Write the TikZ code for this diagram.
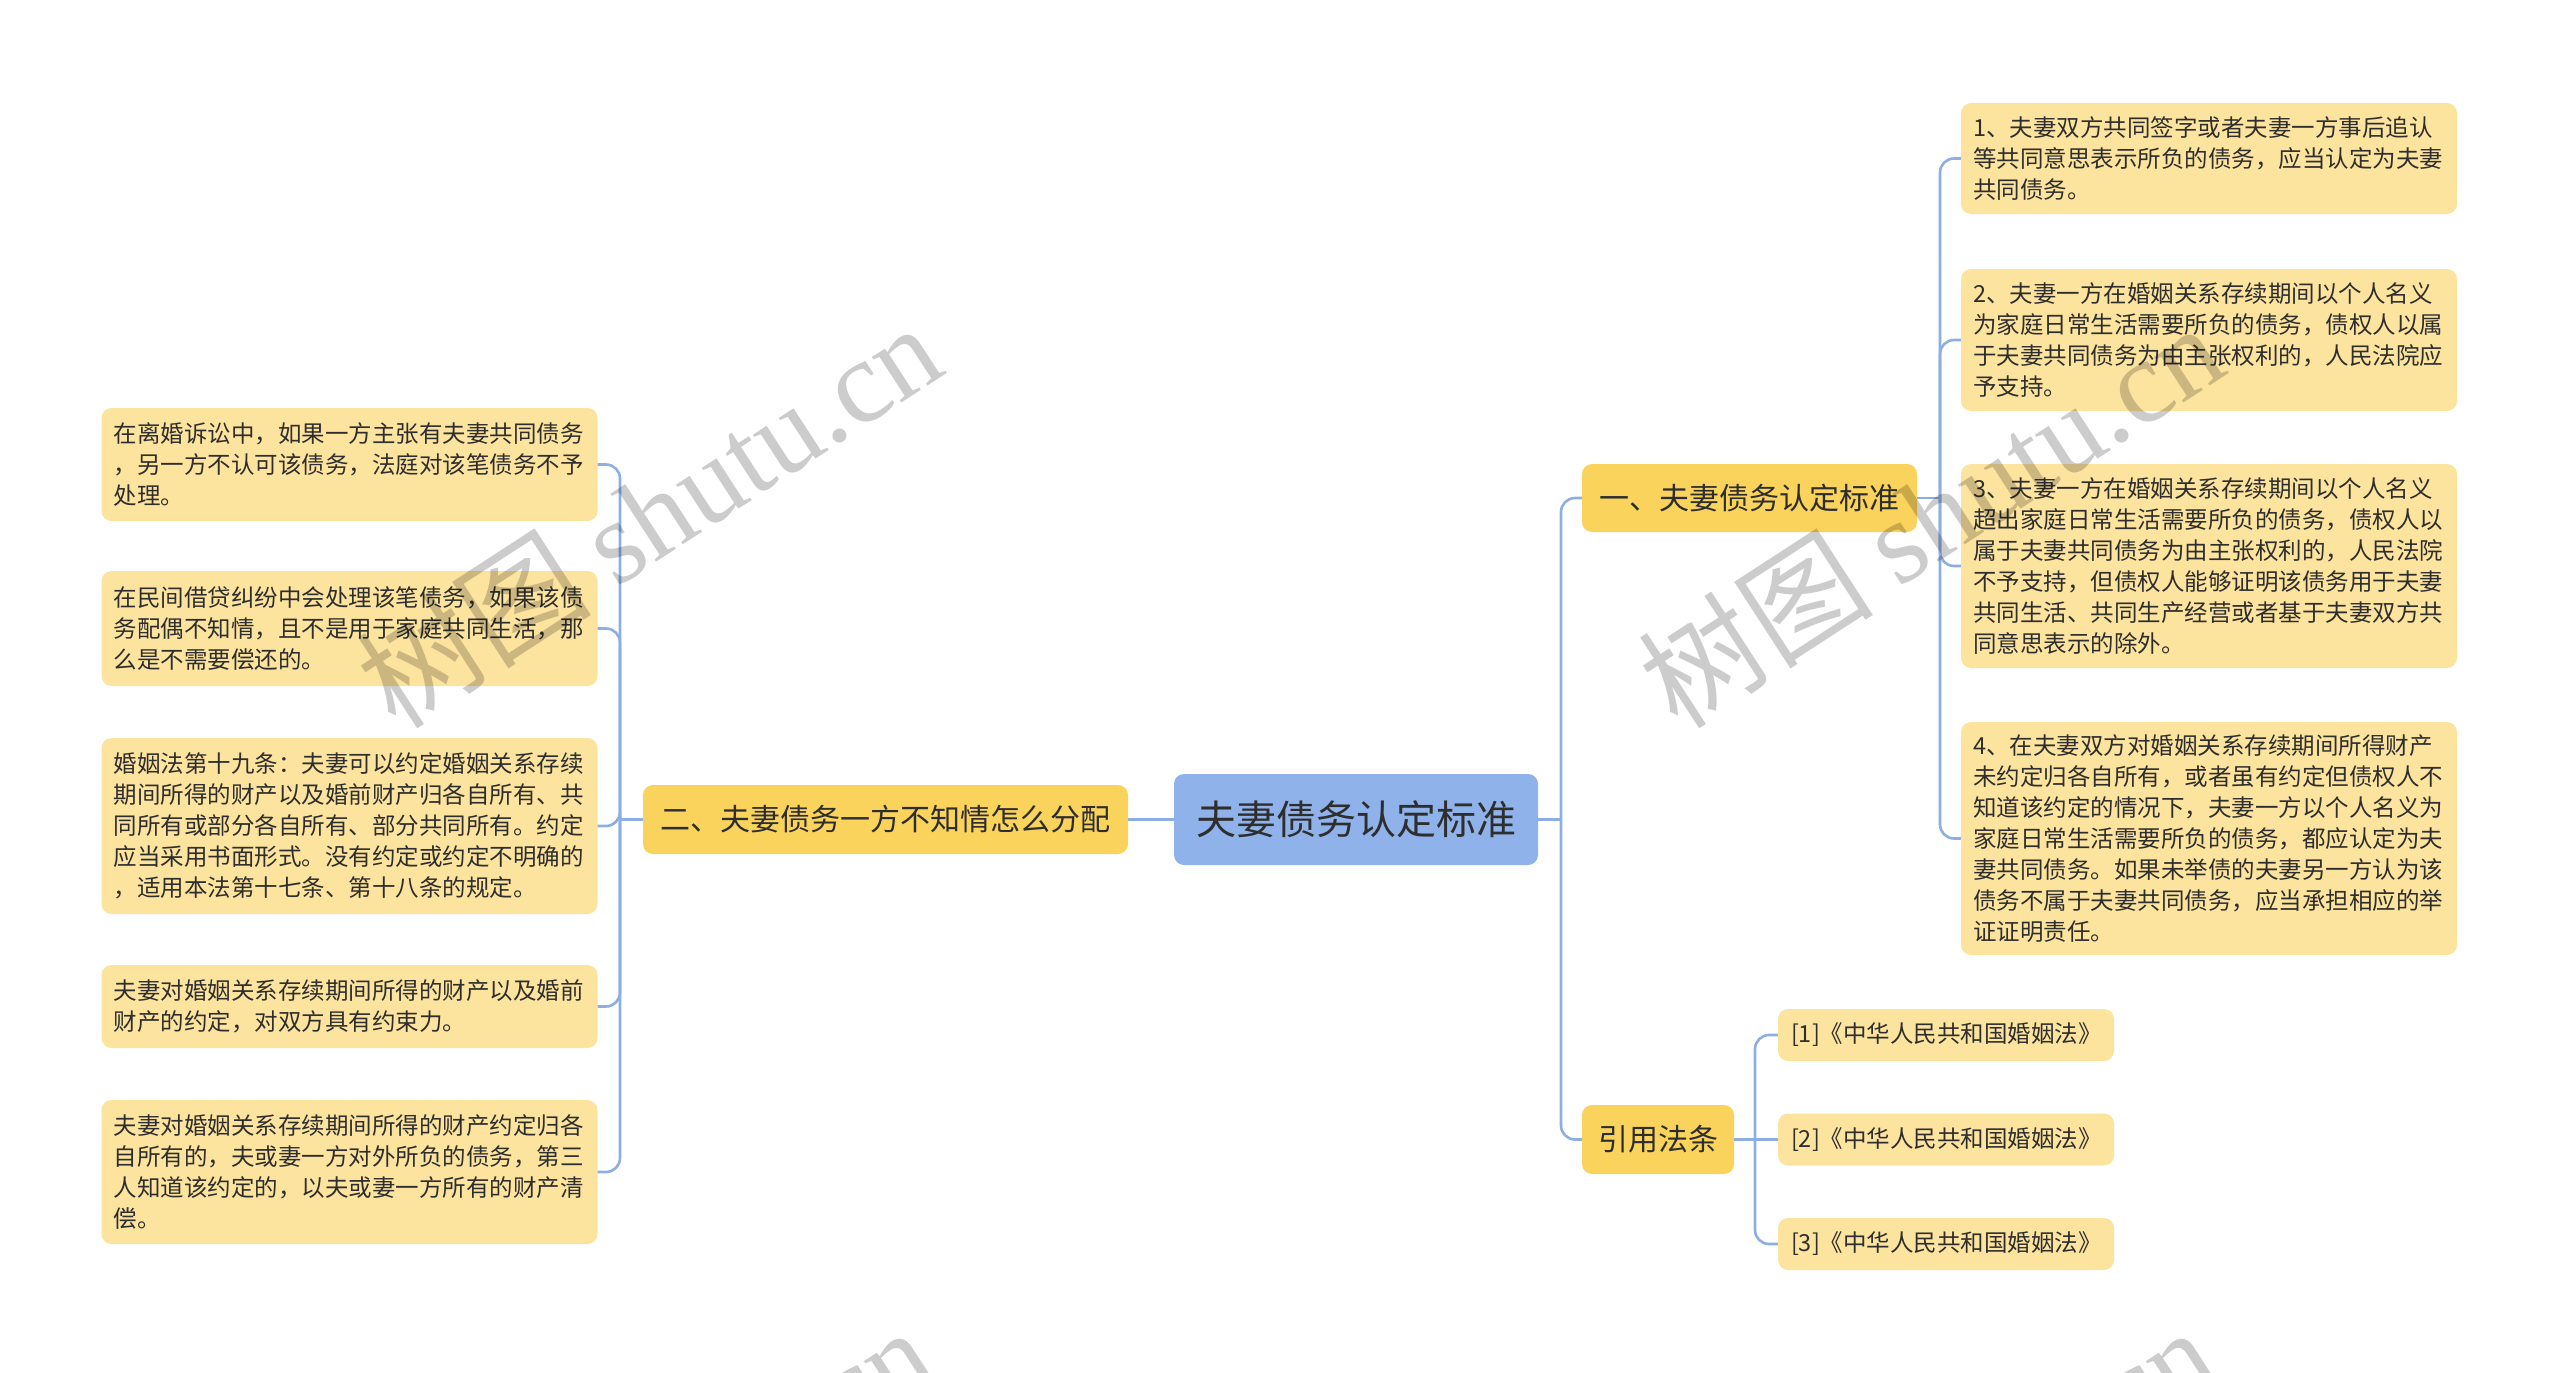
\documentclass[tikz,border=0pt]{standalone}
\usepackage{fontspec}
\setmainfont{Noto Sans CJK SC}
\newfontfamily\wmcjk{Noto Sans CJK SC}
\newfontfamily\wmlat{Liberation Serif}
\definecolor{rootc}{HTML}{8FB2EA}
\definecolor{branchc}{HTML}{FAD35C}
\definecolor{leafc}{HTML}{FDE49E}
\definecolor{linec}{HTML}{8DAEE3}
\definecolor{txtc}{HTML}{2E2E2E}
\tikzset{
  base/.style={rounded corners=10pt, text=txtc, inner sep=0pt, draw=none},
  rootbox/.style={base, fill=rootc, font=\fontsize{40}{48}\selectfont, minimum width=364pt, minimum height=91pt},
  branchbox/.style={base, fill=branchc, font=\fontsize{30}{36}\selectfont, minimum height=69pt},
  leafbox/.style={base, fill=leafc, font=\fontsize{23.5}{31}\selectfont, align=left, inner xsep=12pt, text width=472pt},
  citebox/.style={base, fill=leafc, font=\fontsize{23.5}{31}\selectfont, align=left, inner xsep=13pt, text width=310pt, minimum height=52pt},
  conn/.style={draw=linec, line width=2.6pt, rounded corners=14pt},
  wm/.style={text=black, opacity=0.2, rotate=33, inner sep=0pt, font=\fontsize{118}{118}\selectfont}
}
\begin{document}
\begin{tikzpicture}[x=1pt,y=-1pt]
\useasboundingbox (0,0) rectangle (2560,1373);
\fill[white] (0,0) rectangle (2560,1373);

% nodes
\node[rootbox] (root) at (1356,819.5) {夫妻债务认定标准};
\node[branchbox, minimum width=485pt] (b2) at (885.5,819.5) {二、夫妻债务一方不知情怎么分配};
\node[branchbox, minimum width=335pt, minimum height=68pt] (b1) at (1749.5,498) {一、夫妻债务认定标准};
\node[branchbox, minimum width=152pt] (b3) at (1658,1139.5) {引用法条};

\node[leafbox, minimum height=111pt] (r1) at (2209,158.5) {1、夫妻双方共同签字或者夫妻一方事后追认\\等共同意思表示所负的债务，应当认定为夫妻\\共同债务。};
\node[leafbox, minimum height=142pt] (r2) at (2209,340) {2、夫妻一方在婚姻关系存续期间以个人名义\\为家庭日常生活需要所负的债务，债权人以属\\于夫妻共同债务为由主张权利的，人民法院应\\予支持。};
\node[leafbox, minimum height=204pt] (r3) at (2209,566) {3、夫妻一方在婚姻关系存续期间以个人名义\\超出家庭日常生活需要所负的债务，债权人以\\属于夫妻共同债务为由主张权利的，人民法院\\不予支持，但债权人能够证明该债务用于夫妻\\共同生活、共同生产经营或者基于夫妻双方共\\同意思表示的除外。};
\node[leafbox, minimum height=233pt] (r4) at (2209,838.5) {4、在夫妻双方对婚姻关系存续期间所得财产\\未约定归各自所有，或者虽有约定但债权人不\\知道该约定的情况下，夫妻一方以个人名义为\\家庭日常生活需要所负的债务，都应认定为夫\\妻共同债务。如果未举债的夫妻另一方认为该\\债务不属于夫妻共同债务，应当承担相应的举\\证证明责任。};

\node[leafbox, minimum height=113pt] (l1) at (349.5,464.5) {在离婚诉讼中，如果一方主张有夫妻共同债务\\，另一方不认可该债务，法庭对该笔债务不予\\处理。};
\node[leafbox, minimum height=115pt] (l2) at (349.5,628.5) {在民间借贷纠纷中会处理该笔债务，如果该债\\务配偶不知情，且不是用于家庭共同生活，那\\么是不需要偿还的。};
\node[leafbox, minimum height=176pt] (l3) at (349.5,826) {婚姻法第十九条：夫妻可以约定婚姻关系存续\\期间所得的财产以及婚前财产归各自所有、共\\同所有或部分各自所有、部分共同所有。约定\\应当采用书面形式。没有约定或约定不明确的\\，适用本法第十七条、第十八条的规定。};
\node[leafbox, minimum height=83pt] (l4) at (349.5,1006.5) {夫妻对婚姻关系存续期间所得的财产以及婚前\\财产的约定，对双方具有约束力。};
\node[leafbox, minimum height=144pt] (l5) at (349.5,1172) {夫妻对婚姻关系存续期间所得的财产约定归各\\自所有的，夫或妻一方对外所负的债务，第三\\人知道该约定的，以夫或妻一方所有的财产清\\偿。};

\node[citebox] (c1) at (1946,1035) {[1]《中华人民共和国婚姻法》};
\node[citebox] (c2) at (1946,1139.5) {[2]《中华人民共和国婚姻法》};
\node[citebox] (c3) at (1946,1244) {[3]《中华人民共和国婚姻法》};

% connectors
\draw[conn] (root.west) -- (b2.east);
\coordinate (jl) at (620,819.5);
\draw[conn] (b2.west) -- (jl);
\foreach \n in {l1,l2,l3,l4,l5} \draw[conn] (jl) |- (\n.east);

\coordinate (jr) at (1561,819.5);
\draw[conn] (root.east) -- (jr);
\draw[conn] (jr) |- (b1.west);
\draw[conn] (jr) |- (b3.west);

\coordinate (j1) at (1940,498);
\draw[conn] (b1.east) -- (j1);
\foreach \n in {r1,r2,r3,r4} \draw[conn] (j1) |- (\n.west);

\coordinate (j3) at (1755,1139.5);
\draw[conn] (b3.east) -- (j3);
\draw[conn] (j3) |- (c1.west);
\draw[conn] (j3) -- (c2.west);
\draw[conn] (j3) |- (c3.west);

% watermarks
\begin{scope}
\clip (0,0) rectangle (2560,1373);
\node[wm] (wm1) at (648,514) {\wmcjk 树图 \wmlat shutu.cn};
\node[wm] (wm2) at (1930,514) {\wmcjk 树图 \wmlat shutu.cn};
\node[wm] (wm3) at (640,1518) {\wmcjk 树图 \wmlat shutu.cn};
\node[wm] (wm4) at (1922,1518) {\wmcjk 树图 \wmlat shutu.cn};
\end{scope}
\end{tikzpicture}
\end{document}
